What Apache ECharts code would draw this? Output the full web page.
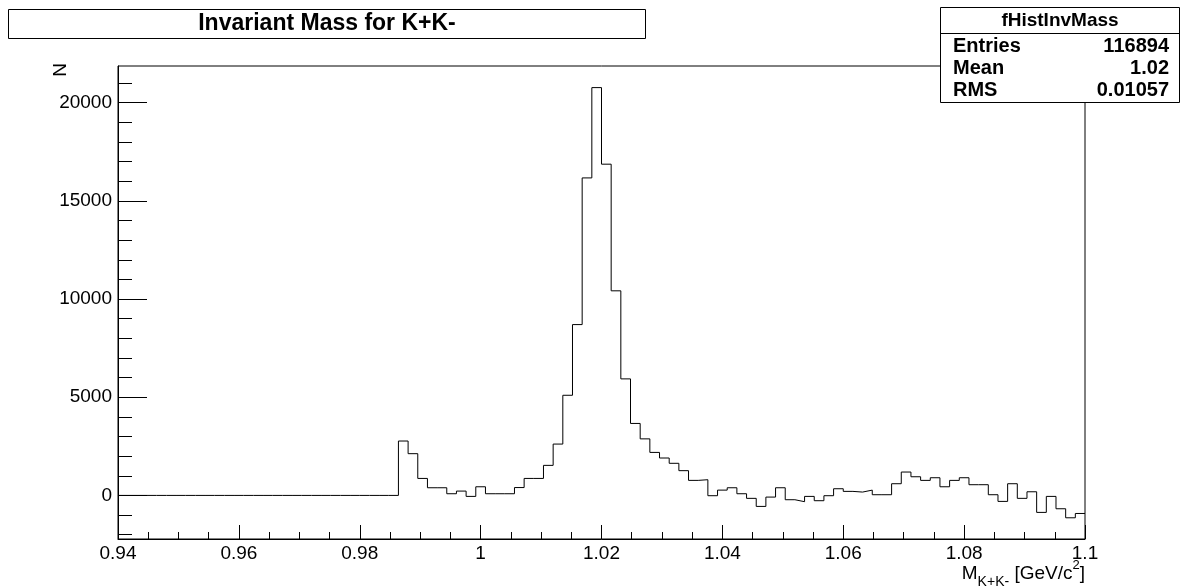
<!DOCTYPE html>
<html>
<head>
<meta charset="utf-8">
<title>Invariant Mass for K+K-</title>
<script src="https://cdn.jsdelivr.net/npm/echarts@6/dist/echarts.min.js"></script>
<style>
  html, body { margin: 0; padding: 0; background: #fff; }
  #chart { width: 1187px; height: 587px; }
</style>
</head>
<body>
<div id="chart"></div>
<script>
// Histogram binning: 100 bins from 0.94 to 1.1 GeV/c^2
const binLow = 0.94;
const binWidth = 0.0016;

// Bin contents of fHistInvMass
const counts = [
  0, 0, 0, 0, 0, 0, 0, 0, 0, 0,
  0, 0, 0, 0, 0, 0, 0, 0, 0, 0,
  0, 0, 0, 0, 0, 0, 0, 0, 0, 2770,
  2125, 865, 390, 390, 85, 220, -50, 440, 85, 85,
  85, 400, 865, 865, 1530, 2615, 5100, 8700, 16170, 20770,
  16870, 10420, 5935, 3665, 2880, 2190, 1905, 1635, 1260, 765,
  800, -15, 270, 390, 85, -150, -560, -85, 390, -220,
  -320, -50, -270, -15, 340, 205, 170, 270, 35, 35,
  595, 1190, 950, 765, 900, 440, 765, 900, 545, 545,
  35, -305, 595, -150, 185, -865, -50, -680, -1140, -920
];

// Axis ranges and tick values
const xMin = 0.94, xMax = 1.1, xStep = 0.02;
const yMin = -2220, yMax = 21870;
const yMajorTicks = [0, 5000, 10000, 15000, 20000];
const yMinorTicks = [-2000, -1000, 1000, 2000, 3000, 4000, 6000, 7000, 8000, 9000,
  11000, 12000, 13000, 14000, 16000, 17000, 18000, 19000, 21000];

// Statistics box
const statsTitle = 'fHistInvMass';
const statsRows = [['Entries', '116894'], ['Mean', '1.02'], ['RMS', '0.01057']];

const titleText = 'Invariant Mass for K+K-';
const yTitle = 'N';

// Step outline: one point per bin low edge, plus the upper edge of the last bin
const stepData = counts.map((v, i) => [binLow + i * binWidth, v]);
stepData.push([binLow + counts.length * binWidth, counts[counts.length - 1]]);

const FONT = '"Liberation Sans", Helvetica, Arial, sans-serif';
const G = { left: 118, top: 66, width: 967, height: 473 };

const chart = echarts.init(document.getElementById('chart'), null, { renderer: 'canvas' });

const statsGraphics = [];
const boxL = 940.5, boxR = 1179.5, boxT = 7.5, boxB = 102.5;
statsGraphics.push({
  type: 'rect', z: 100,
  shape: { x: boxL, y: boxT, width: boxR - boxL, height: boxB - boxT },
  style: { fill: '#fff', stroke: '#000', lineWidth: 1 }
});
statsGraphics.push({
  type: 'line', z: 101,
  shape: { x1: boxL, y1: 33.5, x2: boxR, y2: 33.5 },
  style: { stroke: '#000', lineWidth: 1 }
});
statsGraphics.push({
  type: 'text', z: 102, x: (boxL + boxR) / 2, y: 21,
  style: { text: statsTitle, fill: '#000', fontFamily: FONT, fontWeight: 'bold', fontSize: 19,
           align: 'center', verticalAlign: 'middle' }
});
statsRows.forEach((row, i) => {
  const yy = 46.5 + i * 22;
  statsGraphics.push({
    type: 'text', z: 102, x: 953, y: yy,
    style: { text: row[0], fill: '#000', fontFamily: FONT, fontWeight: 'bold', fontSize: 20,
             align: 'left', verticalAlign: 'middle' }
  });
  statsGraphics.push({
    type: 'text', z: 102, x: 1169, y: yy,
    style: { text: row[1], fill: '#000', fontFamily: FONT, fontWeight: 'bold', fontSize: 20,
             align: 'right', verticalAlign: 'middle' }
  });
});

const option = {
  animation: false,
  backgroundColor: '#fff',
  grid: {
    left: G.left, top: G.top, width: G.width, height: G.height,
    show: true, borderColor: '#000', borderWidth: 1, backgroundColor: 'transparent'
  },
  xAxis: {
    type: 'value', min: xMin, max: xMax, interval: xStep,
    axisLine: { show: true, onZero: false, lineStyle: { color: '#000', width: 1 } },
    axisTick: { show: true, inside: true, length: 14, lineStyle: { color: '#000', width: 1 } },
    minorTick: { show: true, splitNumber: 4, length: 7, lineStyle: { color: '#000', width: 1 } },
    axisLabel: { color: '#000', fontFamily: FONT, fontSize: 19, margin: 5,
                 showMinLabel: true, showMaxLabel: true },
    splitLine: { show: false }
  },
  yAxis: [
    {
      type: 'value', min: yMin, max: yMax,
      axisLine: { show: true, lineStyle: { color: '#000', width: 1 } },
      axisTick: { show: true, inside: true, length: 29, customValues: yMajorTicks,
                  lineStyle: { color: '#000', width: 1 } },
      axisLabel: { color: '#000', fontFamily: FONT, fontSize: 19, margin: 6,
                   customValues: yMajorTicks, formatter: (v) => String(v) },
      splitLine: { show: false }
    },
    {
      type: 'value', min: yMin, max: yMax, position: 'left',
      axisLine: { show: false },
      axisTick: { show: true, inside: true, length: 14, customValues: yMinorTicks,
                  lineStyle: { color: '#000', width: 1 } },
      axisLabel: { show: false },
      splitLine: { show: false }
    }
  ],
  series: [{
    type: 'line',
    xAxisIndex: 0, yAxisIndex: 0,
    data: stepData,
    step: 'end',
    symbol: 'none',
    lineStyle: { color: '#000', width: 1 },
    z: 5
  }],
  graphic: [
    {
      type: 'rect', z: 100,
      shape: { x: 8.5, y: 9.5, width: 637, height: 29 },
      style: { fill: '#fff', stroke: '#000', lineWidth: 1 }
    },
    {
      type: 'text', z: 101, x: 327, y: 24,
      style: { text: titleText, fill: '#000', fontFamily: FONT, fontWeight: 'bold', fontSize: 23,
               align: 'center', verticalAlign: 'middle' }
    },
    {
      type: 'text', z: 101, x: 61, y: 70, rotation: Math.PI / 2,
      style: { text: yTitle, fill: '#000', fontFamily: FONT, fontSize: 19,
               align: 'center', verticalAlign: 'middle' }
    },
    {
      type: 'text', z: 101, x: 1085, y: 574,
      style: {
        text: '{m|M}{s|K+K-}{m| [GeV/c}{p|2}{m|]}',
        align: 'right', verticalAlign: 'middle',
        rich: {
          m: { fontFamily: FONT, fontSize: 19, fill: '#000', lineHeight: 30, verticalAlign: 'middle' },
          s: { fontFamily: FONT, fontSize: 14, fill: '#000', lineHeight: 30, verticalAlign: 'bottom' },
          p: { fontFamily: FONT, fontSize: 13, fill: '#000', lineHeight: 30, verticalAlign: 'top' }
        }
      }
    }
  ].concat(statsGraphics)
};

chart.setOption(option);
</script>
</body>
</html>
